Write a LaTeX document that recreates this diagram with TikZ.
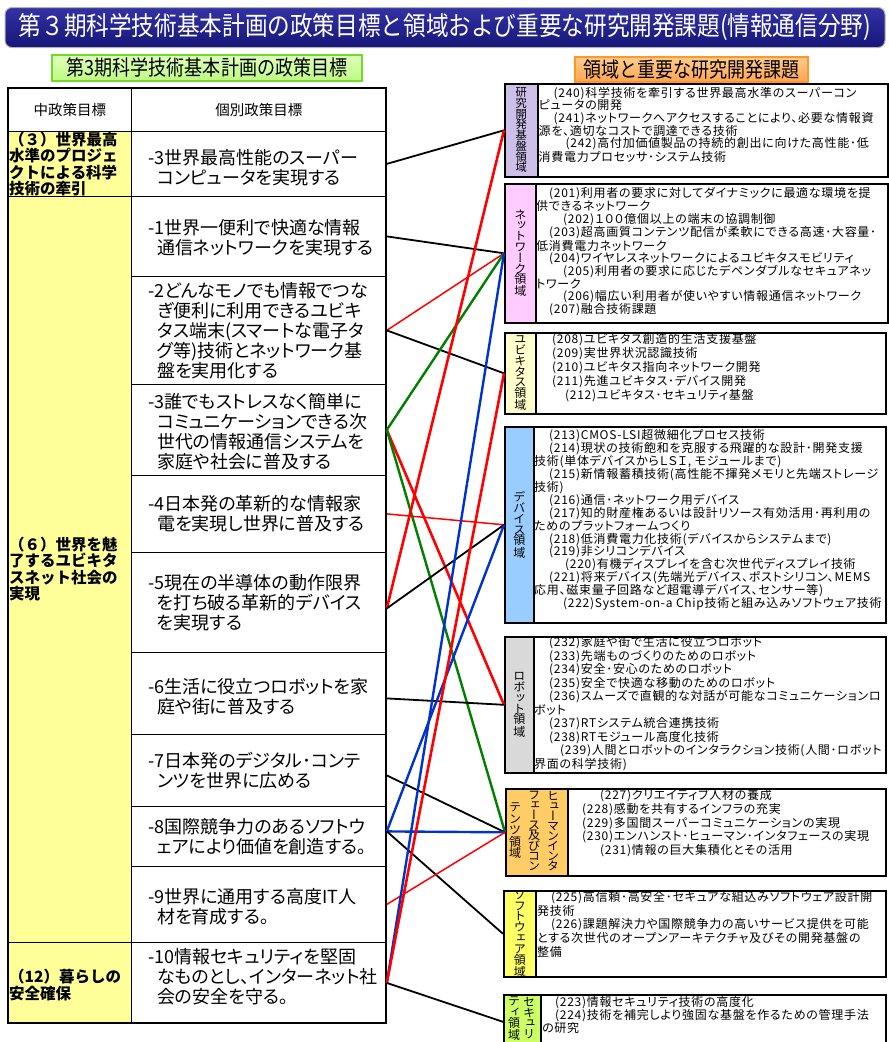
\documentclass[tikz,border=0pt]{standalone}
\usepackage{fontspec}
\setmainfont{Noto Sans CJK JP}
\newfontfamily\jpp[RawFeature=+palt]{Noto Sans CJK JP}
\newfontfamily\jpv[RawFeature=+vert]{Noto Sans CJK JP}
\newfontfamily\jpr[RawFeature=+palt,LetterSpace=6]{Noto Sans CJK JP}
\definecolor{ttltop}{RGB}{50,50,165}
\definecolor{ttlbot}{RGB}{22,22,120}
\definecolor{cellY}{RGB}{255,255,153}
\definecolor{gTop}{RGB}{225,255,190}
\definecolor{gBot}{RGB}{190,250,130}
\definecolor{gLine}{RGB}{110,220,40}
\definecolor{oTop}{RGB}{255,205,140}
\definecolor{oBot}{RGB}{255,165,80}
\definecolor{oLine}{RGB}{255,150,40}
\definecolor{cA}{RGB}{204,192,232}
\definecolor{cB}{RGB}{255,204,255}
\definecolor{cC}{RGB}{255,255,204}
\definecolor{cD}{RGB}{153,204,255}
\definecolor{cE}{RGB}{217,217,217}
\definecolor{cF}{RGB}{255,204,102}
\definecolor{cG}{RGB}{255,255,102}
\definecolor{cH}{RGB}{204,255,102}
\definecolor{lred}{RGB}{255,0,0}
\definecolor{lblue}{RGB}{0,51,204}
\definecolor{lgreen}{RGB}{0,128,0}
\newcommand\indnt[1]{\hspace*{#1pt}}
\begin{document}
\begin{tikzpicture}[x=1pt,y=-1pt,
  ttlbox/.style={rounded corners=7pt, draw=gray!60, line width=1pt, top color=ttltop, bottom color=ttlbot, minimum width=880pt, minimum height=40pt, text=white, inner sep=0pt},
  tagbox/.style={inner sep=0pt, line width=1.2pt},
  cellbox/.style={draw, line width=0.8pt, inner sep=0pt, anchor=north west},
  hdtext/.style={inner sep=0pt, font=\fontsize{14.5}{14.5}\selectfont},
  midtext/.style={anchor=west, align=left, inner sep=0pt, font=\bfseries\fontsize{15.5}{16.5}\selectfont},
  poltext/.style={anchor=west, align=left, inner sep=0pt, font=\jpp\fontsize{18}{20}\selectfont},
  lblcol/.style={draw, line width=1.6pt, inner sep=0pt, anchor=north west},
  boxframe/.style={draw, line width=2.4pt, inner sep=0pt, anchor=north west},
  vlbl/.style={align=center, inner sep=0pt, font=\jpv\fontsize{12}{10.8}\selectfont},
  itemtext/.style={anchor=north west, align=left, inner sep=0pt},
  blk/.style={line width=1.8pt, black},
  rthick/.style={line width=2.6pt, lred},
  rthin/.style={line width=1.5pt, lred},
  bl/.style={line width=2.4pt, lblue},
  gr/.style={line width=2.4pt, lgreen}
]
\useasboundingbox (0,0) rectangle (889,1042);
\fill[white] (0,0) rectangle (889,1042);

% title
\node[ttlbox] (title) at (445,27.5) {\scalebox{0.87}[1]{\fontsize{26}{26}\selectfont 第３期科学技術基本計画の政策目標と領域および重要な研究開発課題(情報通信分野)}};

% tags
\node[tagbox, draw=gLine, top color=gTop, bottom color=gBot, minimum width=310pt, minimum height=26pt] (tagL) at (207,68) {\scalebox{0.86}[1]{\fontsize{21}{21}\selectfont 第3期科学技術基本計画の政策目標}};
\node[tagbox, draw=oLine, top color=oTop, bottom color=oBot, minimum width=233pt, minimum height=25pt] (tagR) at (691.5,69.5) {\scalebox{0.86}[1]{\fontsize{21}{21}\selectfont 領域と重要な研究開発課題}};

% left table
\node[cellbox, minimum width=123pt, minimum height=43pt] (h1) at (8,88) {};
\node[cellbox, minimum width=255pt, minimum height=43pt] (h2) at (131,88) {};
\node[hdtext] (h1t) at (h1.center) {中政策目標};
\node[hdtext] (h2t) at (h2.center) {個別政策目標};

\node[cellbox, fill=cellY, minimum width=123pt, minimum height=65pt] (m3) at (8,131) {};
\node[cellbox, fill=cellY, minimum width=123pt, minimum height=746pt] (m6) at (8,196) {};
\node[cellbox, fill=cellY, minimum width=123pt, minimum height=81pt] (m12) at (8,942) {};
\node[midtext] (m3t) at (9,164) {（３）世界最高\\水準のプロジェ\\クトによる科学\\技術の牽引};
\node[midtext] (m6t) at (9,569) {（６）世界を魅\\了するユビキタ\\スネット社会の\\実現};
\node[midtext] (m12t) at (9,985) {（12）暮らしの\\安全確保};

\node[cellbox, minimum width=255pt, minimum height=65pt] (q0) at (131,131) {};
\node[cellbox, minimum width=255pt, minimum height=80pt] (q1) at (131,196) {};
\node[cellbox, minimum width=255pt, minimum height=108pt] (q2) at (131,276) {};
\node[cellbox, minimum width=255pt, minimum height=91pt] (q3) at (131,384) {};
\node[cellbox, minimum width=255pt, minimum height=77pt] (q4) at (131,475) {};
\node[cellbox, minimum width=255pt, minimum height=100pt] (q5) at (131,552) {};
\node[cellbox, minimum width=255pt, minimum height=82pt] (q6) at (131,652) {};
\node[cellbox, minimum width=255pt, minimum height=72pt] (q7) at (131,734) {};
\node[cellbox, minimum width=255pt, minimum height=60pt] (q8) at (131,806) {};
\node[cellbox, minimum width=255pt, minimum height=76pt] (q9) at (131,866) {};
\node[cellbox, minimum width=255pt, minimum height=81pt] (q10) at (131,942) {};

\node[poltext] (q0t) at (148,168) {-3世界最高性能のスーパー\\\indnt{9}コンピュータを実現する};
\node[poltext] (q1t) at (148,238) {-1世界一便利で快適な情報\\\indnt{9}通信ネットワークを実現する};
\node[poltext] (q2t) at (148,331) {-2どんなモノでも情報でつな\\\indnt{9}ぎ便利に利用できるユビキ\\\indnt{9}タス端末(スマートな電子タ\\\indnt{9}グ等)技術とネットワーク基\\\indnt{9}盤を実用化する};
\node[poltext] (q3t) at (148,432) {-3誰でもストレスなく簡単に\\\indnt{9}コミュニケーションできる次\\\indnt{9}世代の情報通信システムを\\\indnt{9}家庭や社会に普及する};
\node[poltext] (q4t) at (148,514) {-4日本発の革新的な情報家\\\indnt{9}電を実現し世界に普及する};
\node[poltext] (q5t) at (148,603) {-5現在の半導体の動作限界\\\indnt{9}を打ち破る革新的デバイス\\\indnt{9}を実現する};
\node[poltext] (q6t) at (148,697) {-6生活に役立つロボットを家\\\indnt{9}庭や街に普及する};
\node[poltext] (q7t) at (148,771) {-7日本発のデジタル･コンテ\\\indnt{9}ンツを世界に広める};
\node[poltext] (q8t) at (148,837) {-8国際競争力のあるソフトウ\\\indnt{9}ェアにより価値を創造する。};
\node[poltext] (q9t) at (148,907) {-9世界に通用する高度IT人\\\indnt{9}材を育成する。};
\node[poltext] (q10t) at (148,977) {-10情報セキュリティを堅固\\\indnt{9}なものとし、インターネット社\\\indnt{9}会の安全を守る。};

\draw[line width=2.5pt] (8,88) rectangle (386,1023);

% right boxes
\node[lblcol, fill=cA, minimum width=33pt, minimum height=93pt] (l1) at (504,83) {};
\node[boxframe, minimum width=383pt, minimum height=93pt] (b1) at (504,83) {};
\node[vlbl, font=\jpv\fontsize{11.3}{10.7}\selectfont] (v1) at (l1.center) {研\\究\\開\\発\\基\\盤\\領\\域};
\node[itemtext, font=\jpr\fontsize{12}{12.4}\selectfont] (t1) at (538.5,87) {\indnt{15}(240)科学技術を牽引する世界最高水準のスーパーコン\\ピュータの開発\\\indnt{15}(241)ネットワークへアクセスすることにより、必要な情報資\\源を、適切なコストで調達できる技術\\\indnt{27}(242)高付加価値製品の持続的創出に向けた高性能･低\\消費電力プロセッサ･システム技術};

\node[lblcol, fill=cB, minimum width=31pt, minimum height=139pt] (l2) at (504,183) {};
\node[boxframe, minimum width=383pt, minimum height=139pt] (b2) at (504,183) {};
\node[vlbl] (v2) at (l2.center) {ネ\\ッ\\ト\\ワ\\ー\\ク\\領\\域};
\node[itemtext, font=\jpr\fontsize{12}{12.3}\selectfont] (t2) at (536,187) {\indnt{13}(201)利用者の要求に対してダイナミックに最適な環境を提\\供できるネットワーク\\\indnt{27}(202)１００億個以上の端末の協調制御\\\indnt{13}(203)超高画質コンテンツ配信が柔軟にできる高速･大容量･\\低消費電力ネットワーク\\\indnt{13}(204)ワイヤレスネットワークによるユビキタスモビリティ\\\indnt{27}(205)利用者の要求に応じたデペンダブルなセキュアネッ\\トワーク\\\indnt{27}(206)幅広い利用者が使いやすい情報通信ネットワーク\\\indnt{13}(207)融合技術課題};

\node[lblcol, fill=cC, minimum width=31pt, minimum height=81pt] (l3) at (504,332) {};
\node[boxframe, minimum width=381pt, minimum height=81pt] (b3) at (504,332) {};
\node[vlbl] (v3) at (l3.center) {ユ\\ビ\\キ\\タ\\ス\\領\\域};
\node[itemtext, font=\jpr\fontsize{12}{14}\selectfont] (t3) at (536,333.5) {\indnt{16}(208)ユビキタス創造的生活支援基盤\\\indnt{16}(209)実世界状況認識技術\\\indnt{16}(210)ユビキタス指向ネットワーク開発\\\indnt{16}(211)先進ユビキタス･デバイス開発\\\indnt{29}(212)ユビキタス･セキュリティ基盤};

\node[lblcol, fill=cD, minimum width=29pt, minimum height=196pt] (l4) at (504,426) {};
\node[boxframe, minimum width=381pt, minimum height=196pt] (b4) at (504,426) {};
\node[vlbl] (v4) at (l4.center) {デ\\バ\\イ\\ス\\領\\域};
\node[itemtext, font=\jpr\fontsize{12}{12.9}\selectfont] (t4) at (534,429.5) {\indnt{15}(213)CMOS-LSI超微細化プロセス技術\\\indnt{15}(214)現状の技術飽和を克服する飛躍的な設計･開発支援\\技術(単体デバイスからＬＳＩ, モジュールまで)\\\indnt{15}(215)新情報蓄積技術(高性能不揮発メモリと先端ストレージ\\技術)\\\indnt{15}(216)通信･ネットワーク用デバイス\\\indnt{15}(217)知的財産権あるいは設計リソース有効活用･再利用の\\ためのプラットフォームつくり\\\indnt{15}(218)低消費電力化技術(デバイスからシステムまで)\\\indnt{15}(219)非シリコンデバイス\\\indnt{31}(220)有機ディスプレイを含む次世代ディスプレイ技術\\\indnt{15}(221)将来デバイス(先端光デバイス、ポストシリコン、MEMS\\応用、磁束量子回路など超電導デバイス、センサー等)\\\indnt{29}(222)System-on-a Chip技術と組み込みソフトウェア技術};

\node[lblcol, fill=cE, minimum width=29pt, minimum height=136pt] (l5) at (504,636) {};
\node[boxframe, minimum width=381pt, minimum height=136pt] (b5) at (504,636) {};
\node[vlbl] (v5) at (l5.center) {ロ\\ボ\\ッ\\ト\\領\\域};
\node[itemtext, font=\jpr\fontsize{12}{13.5}\selectfont] (t5) at (534,636.5) {\indnt{15}(232)家庭や街で生活に役立つロボット\\\indnt{15}(233)先端ものづくりのためのロボット\\\indnt{15}(234)安全･安心のためのロボット\\\indnt{15}(235)安全で快適な移動のためのロボット\\\indnt{15}(236)スムーズで直観的な対話が可能なコミュニケーションロ\\ボット\\\indnt{15}(237)RTシステム統合連携技術\\\indnt{15}(238)RTモジュール高度化技術\\\indnt{26}(239)人間とロボットのインタラクション技術(人間･ロボット\\界面の科学技術)};

\node[lblcol, fill=cF, minimum width=62pt, minimum height=87pt] (l6) at (505,788) {};
\node[boxframe, minimum width=380pt, minimum height=87pt] (b6) at (505,788) {};
\node[vlbl, font=\jpv\fontsize{12}{10}\selectfont] (v6a) at (553,831) {ヒ\\ュ\\ー\\マ\\ン\\イ\\ン\\タ};
\node[vlbl, font=\jpv\fontsize{12}{10}\selectfont] (v6b) at (534,831) {フ\\ェ\\ー\\ス\\及\\び\\コ\\ン};
\node[vlbl, font=\jpv\fontsize{12}{11.5}\selectfont] (v6c) at (515,831) {テ\\ン\\ツ\\領\\域};
\node[itemtext, font=\jpr\fontsize{12}{13.8}\selectfont] (t6) at (568,789) {\indnt{32}(227)クリエイティブ人材の養成\\\indnt{14}(228)感動を共有するインフラの充実\\\indnt{14}(229)多国間スーパーコミュニケーションの実現\\\indnt{14}(230)エンハンスト･ヒューマン･インタフェースの実現\\\indnt{32}(231)情報の巨大集積化とその活用};

\node[lblcol, fill=cG, minimum width=32pt, minimum height=86pt] (l7) at (503,890) {};
\node[boxframe, minimum width=382pt, minimum height=86pt] (b7) at (503,890) {};
\node[vlbl] (v7) at (l7.center) {ソ\\フ\\ト\\ウ\\ェ\\ア\\領\\域};
\node[itemtext, font=\jpr\fontsize{12}{13.7}\selectfont] (t7) at (537,891) {\indnt{14}(225)高信頼･高安全･セキュアな組込みソフトウェア設計開\\発技術\\\indnt{14}(226)課題解決力や国際競争力の高いサービス提供を可能\\とする次世代のオープンアーキテクチャ及びその開発基盤の\\整備};

\node[lblcol, fill=cH, minimum width=37pt, minimum height=54pt] (l8) at (503,994) {};
\node[boxframe, minimum width=382pt, minimum height=54pt] (b8) at (503,994) {};
\node[vlbl, anchor=north] (v8a) at (529,997) {セ\\キ\\ュ\\リ};
\node[vlbl, anchor=north] (v8b) at (514,997) {テ\\ィ\\領\\域};
\node[itemtext, font=\jpr\fontsize{12}{13}\selectfont] (t8) at (542,996) {\indnt{13}(223)情報セキュリティ技術の高度化\\\indnt{13}(224)技術を補完しより強固な基盤を作るための管理手法\\の研究};

% connectors
\draw[blk] (q0.east) -- (l1.west);
\draw[blk] (q1.east) -- (l2.west);
\draw[rthin] (q2.east) -- (l2.west);
\draw[blk] (q2.east) -- (l3.west);
\draw[gr] (q3.east) -- (l2.west);
\draw[rthick] (q3.east) -- (l5.west);
\draw[gr] (q3.east) -- (l6.west);
\draw[rthin] (q4.east) -- (l4.west);
\draw[rthick] ([yshift=-6pt]q5.east) -- (l1.west);
\draw[blk] ([yshift=-6pt]q5.east) -- (l4.west);
\draw[blk] ([yshift=-5pt]q6.east) -- (l5.west);
\draw[blk] ([yshift=-5pt]q7.east) -- (l6.west);
\draw[bl] ([yshift=5pt]q8.east) -- (l4.west);
\draw[bl] ([yshift=5pt]q8.east) -- (l6.west);
\draw[blk] ([yshift=5pt]q8.east) -- (l7.west);
\draw[rthin] (q9.east) -- (l6.west);
\draw[bl] (q10.east) -- (l2.west);
\draw[rthick] (q10.east) -- (l3.west);
\draw[blk] (q10.east) -- (l8.west);
\end{tikzpicture}
\end{document}
